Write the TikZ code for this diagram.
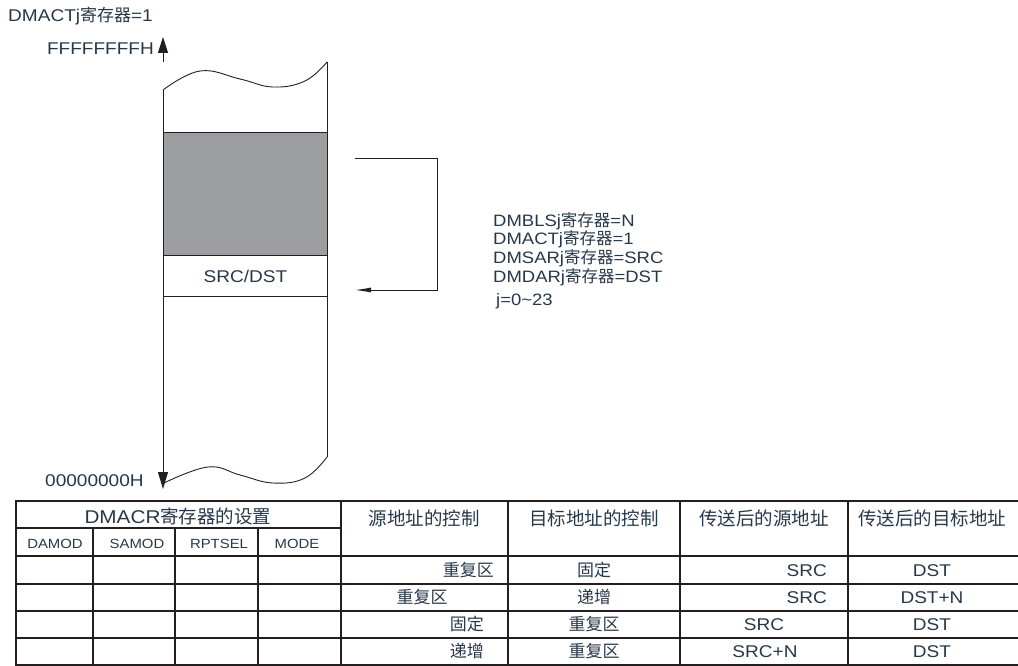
\documentclass[tikz,border=0pt]{standalone}
\usepackage{fontspec}
\setmainfont{Liberation Sans}[FakeStretch=1.12]
\newfontfamily\cjk{Noto Sans CJK SC}
\newcommand\hanzi[1]{{\cjk #1}}
\usetikzlibrary{arrows.meta}
\definecolor{txt}{HTML}{27384A}
\definecolor{ink}{HTML}{231F20}
\definecolor{blk}{HTML}{9D9EA1}

\begin{document}
\begin{tikzpicture}[x=1bp,y=-1bp,
		lbl/.style={font=\fontsize{17bp}{19bp}\selectfont, text=txt, inner sep=0pt},
		reg/.style={font=\fontsize{16.5bp}{19bp}\selectfont, text=txt, inner sep=0pt, anchor=base west},
		hdr/.style={font=\fontsize{18.5bp}{20bp}\selectfont, text=txt, inner sep=0pt, anchor=base},
		sub/.style={font=\fontsize{13.3bp}{15bp}\selectfont, text=txt, inner sep=0pt, anchor=base},
		cell/.style={font=\fontsize{17bp}{19bp}\selectfont, text=txt, inner sep=0pt, anchor=base},
		mem/.style={draw=ink, line width=0.9bp},
		tbl/.style={draw=ink, line width=1.6bp}]
		\useasboundingbox (0,0) rectangle (1018,666);
		
		% memory map
		\node[lbl, anchor=base west] (act) at (8,22) {DMACTj\hanzi{寄存器}=1};
		\node[lbl, anchor=base east] (hi) at (154,55) {FFFFFFFFH};
		\node[lbl, anchor=base west] (lo) at (45,486) {00000000H};
		\coordinate (hiTail) at (163,62);
		\coordinate (hiTip) at (163,37);
		\coordinate (colTop) at (163,90);
		\coordinate (loTip) at (163,489);
		\draw[mem, -{Triangle[length=16bp,width=10bp]}] (hiTail) -- (hiTip);
		\draw[mem, -{Triangle[length=17bp,width=10bp]}] (colTop) -- (loTip);
		\draw[mem] (327,62) -- (327,457);
		\draw[mem] plot[smooth, tension=0.7] coordinates {(163,90) (200,71) (240,79) (273,87) (305,81) (327,62)};
		\draw[mem] plot[smooth, tension=0.7] coordinates {(164,483) (208,467) (240,475) (273,483) (305,478) (327,457)};
		\node[mem, fill=blk, minimum width=164bp, minimum height=123bp, inner sep=0pt, anchor=north west] (blk) at (163,132) {};
		\node[mem, lbl, minimum width=164bp, minimum height=41bp, anchor=north west] (srcdst) at (163,255) {SRC/DST};
		\coordinate (loopA) at (355,158);
		\coordinate (loopB) at (437,158);
		\coordinate (loopC) at (437,290);
		\coordinate (loopD) at (355,290);
		\draw[mem, -{Latex[length=16bp,width=5bp]}] (loopA) -- (loopB) -- (loopC) -- (loopD);
		
		\foreach \txt [count=\i] in {DMBLSj\hanzi{寄存器}=N, DMACTj\hanzi{寄存器}=1, DMSARj\hanzi{寄存器}=SRC, DMDARj\hanzi{寄存器}=DST} {
			\node[reg] (reg\i) at (493,{207.3+18.7*\i}) {\txt};
		}
		\node[reg] (regj) at (496,305) {j=0\textasciitilde 23};
		
		% table
		\draw[tbl] (1018,501) -- (16,501) -- (16,665) -- (1018,665);
		\foreach \y in {556,584,611,638} {
			\draw[tbl] (16,\y) -- (1018,\y);
		}
		\draw[tbl] (16,528) -- (341,528);
		\foreach \x in {341,508,680,848} {
			\draw[tbl] (\x,501) -- (\x,665);
		}
		\foreach \x in {93,175,258} {
			\draw[tbl] (\x,528) -- (\x,665);
		}
		
		\node[hdr] (hSet) at (178,523) {DMACR\hanzi{寄存器的设置}};
		\node[hdr] (hSrc) at (424,525) {\hanzi{源地址的控制}};
		\node[hdr] (hDst) at (594,525) {\hanzi{目标地址的控制}};
		\node[hdr] (hSrcA) at (764,525) {\hanzi{传送后的源地址}};
		\node[hdr] (hDstA) at (932,525) {\hanzi{传送后的目标地址}};
		\node[sub] (hDam) at (55,548) {DAMOD};
		\node[sub] (hSam) at (137,548) {SAMOD};
		\node[sub] (hRpt) at (219,548) {RPTSEL};
		\node[sub] (hMod) at (297,548) {MODE};
		
		\node[cell, anchor=base east] (s1) at (494,576) {\hanzi{重复区}};
		\node[cell] (d1) at (594,576) {\hanzi{固定}};
		\node[cell, anchor=base east] (sa1) at (827,576) {SRC};
		\node[cell] (da1) at (932,576) {DST};
		
		\node[cell] (s2) at (422,603) {\hanzi{重复区}};
		\node[cell] (d2) at (594,603) {\hanzi{递增}};
		\node[cell, anchor=base east] (sa2) at (827,603) {SRC};
		\node[cell] (da2) at (932,603) {DST+N};
		
		\node[cell, anchor=base east] (s3) at (484,630) {\hanzi{固定}};
		\node[cell] (d3) at (594,630) {\hanzi{重复区}};
		\node[cell] (sa3) at (764,630) {SRC};
		\node[cell] (da3) at (932,630) {DST};
		
		\node[cell, anchor=base east] (s4) at (484,657) {\hanzi{递增}};
		\node[cell] (d4) at (594,657) {\hanzi{重复区}};
		\node[cell] (sa4) at (765,657) {SRC+N};
		\node[cell] (da4) at (932,657) {DST};
		
	\end{tikzpicture}
\end{document}
